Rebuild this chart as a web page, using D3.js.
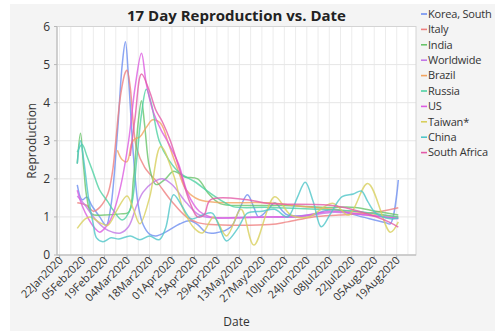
<!DOCTYPE html>
<html>
<head>
<meta charset="utf-8">
<script src="https://cdn.jsdelivr.net/npm/d3@7/dist/d3.min.js"></script>
<style>
  body { margin: 0; background: #ffffff; }
  svg { display: block; font-family: "Open Sans", "Noto Sans", sans-serif; }
</style>
</head>
<body>
<svg id="chart" width="495" height="331"></svg>
<script>
// 17-day reproduction estimates by country, one [date, value] list per series
const countries = ["Korea, South", "Italy", "India", "Worldwide", "Brazil", "Russia", "US", "Taiwan*", "China", "South Africa"];
const colors = ["#6e8ff0", "#ef7f7f", "#69c46a", "#c277e6", "#f2a45f", "#4fd1a3", "#dc5ce0", "#d8cf5c", "#4fc6c8", "#e35ba8"];

const korea = [["2020-02-02",1.84],["2020-02-05",1.45],["2020-02-08",1.52],["2020-02-11",1.3],["2020-02-16",1.0],["2020-02-20",0.78],["2020-02-23",1.3],["2020-02-27",3.2],["2020-03-01",5.0],["2020-03-03",5.6],["2020-03-05",4.6],["2020-03-08",2.6],["2020-03-11",1.3],["2020-03-14",0.8],["2020-03-18",0.55],["2020-03-22",0.5],["2020-03-28",0.6],["2020-04-06",0.82],["2020-04-12",0.9],["2020-04-17",0.8],["2020-04-22",0.6],["2020-04-28",0.58],["2020-05-08",0.75],["2020-05-13",1.2],["2020-05-18",1.58],["2020-05-22",1.25],["2020-05-25",1.0],["2020-05-31",1.2],["2020-06-04",1.37],["2020-06-09",1.15],["2020-06-12",1.05],["2020-06-25",1.05],["2020-07-11",1.2],["2020-07-20",1.1],["2020-08-02",0.95],["2020-08-12",0.85],["2020-08-15",0.82],["2020-08-20",1.97]];
const italy = [["2020-02-02",1.37],["2020-02-08",1.3],["2020-02-12",1.15],["2020-02-16",1.25],["2020-02-21",1.6],["2020-02-24",2.2],["2020-02-26",3.0],["2020-02-29",4.2],["2020-03-03",4.8],["2020-03-04",4.85],["2020-03-06",4.4],["2020-03-08",3.4],["2020-03-10",2.8],["2020-03-15",2.3],["2020-03-23",1.9],["2020-04-01",1.4],["2020-04-10",1.0],["2020-04-17",0.85],["2020-04-25",0.8],["2020-06-01",0.8],["2020-06-12",0.87],["2020-06-28",1.0],["2020-07-14",1.05],["2020-08-02",1.1],["2020-08-20",1.24]];
const india = [["2020-02-02",2.4],["2020-02-04",3.2],["2020-02-06",2.3],["2020-02-08",1.5],["2020-02-11",1.08],["2020-02-19",1.05],["2020-02-29",1.08],["2020-03-05",1.12],["2020-03-08",2.0],["2020-03-11",3.5],["2020-03-13",4.05],["2020-03-15",3.4],["2020-03-18",2.3],["2020-03-22",1.85],["2020-03-28",2.0],["2020-04-02",2.2],["2020-04-09",2.05],["2020-04-17",2.0],["2020-04-24",1.6],["2020-05-01",1.35],["2020-05-16",1.3],["2020-06-09",1.3],["2020-07-05",1.25],["2020-07-24",1.25],["2020-08-06",1.15],["2020-08-20",1.05]];
const worldwide = [["2020-02-02",1.55],["2020-02-07",1.3],["2020-02-13",0.95],["2020-02-19",0.7],["2020-02-24",0.6],["2020-02-29",0.58],["2020-03-05",0.75],["2020-03-10",1.3],["2020-03-14",1.65],["2020-03-20",1.9],["2020-03-26",2.0],["2020-04-01",1.85],["2020-04-10",1.37],["2020-04-18",1.05],["2020-04-26",0.98],["2020-05-21",1.0],["2020-06-20",1.0],["2020-07-11",1.12],["2020-07-31",1.05],["2020-08-20",0.97]];
const brazil = [["2020-02-27",2.75],["2020-03-01",2.5],["2020-03-04",2.45],["2020-03-07",2.95],["2020-03-09",3.05],["2020-03-12",3.1],["2020-03-16",3.35],["2020-03-20",3.55],["2020-03-25",3.45],["2020-03-30",2.9],["2020-04-05",2.2],["2020-04-10",1.7],["2020-04-18",1.45],["2020-05-01",1.38],["2020-05-31",1.37],["2020-06-20",1.28],["2020-07-10",1.2],["2020-07-31",1.1],["2020-08-20",1.0]];
const russia = [["2020-02-02",2.7],["2020-02-05",2.9],["2020-02-08",2.6],["2020-02-12",2.15],["2020-02-16",1.7],["2020-02-21",1.4],["2020-02-24",1.2],["2020-03-01",0.92],["2020-03-06",1.2],["2020-03-10",2.5],["2020-03-13",3.7],["2020-03-16",4.35],["2020-03-19",4.0],["2020-03-24",3.0],["2020-03-30",2.5],["2020-04-06",2.15],["2020-04-15",1.93],["2020-04-24",1.65],["2020-05-01",1.45],["2020-05-09",1.27],["2020-05-31",1.25],["2020-06-30",1.2],["2020-07-24",1.15],["2020-08-20",1.0]];
const us = [["2020-02-02",1.7],["2020-02-05",1.3],["2020-02-09",0.95],["2020-02-13",0.7],["2020-02-16",0.6],["2020-02-21",0.8],["2020-02-24",1.05],["2020-02-29",1.8],["2020-03-05",3.0],["2020-03-09",4.4],["2020-03-13",5.3],["2020-03-16",4.5],["2020-03-20",3.8],["2020-03-25",3.3],["2020-03-29",3.0],["2020-04-05",2.4],["2020-04-11",1.6],["2020-04-18",1.15],["2020-04-25",1.0],["2020-05-31",1.0],["2020-06-20",1.02],["2020-07-10",1.15],["2020-07-31",1.05],["2020-08-20",0.95]];
const taiwan = [["2020-02-02",0.7],["2020-02-07",0.95],["2020-02-10",1.0],["2020-02-16",0.85],["2020-02-21",0.78],["2020-02-27",1.2],["2020-03-04",1.55],["2020-03-08",1.2],["2020-03-12",0.82],["2020-03-18",1.5],["2020-03-25",2.85],["2020-04-02",2.1],["2020-04-08",1.2],["2020-04-15",0.7],["2020-04-20",0.58],["2020-04-27",1.0],["2020-05-05",0.5],["2020-05-14",1.2],["2020-05-22",0.26],["2020-06-04",1.53],["2020-06-14",1.05],["2020-06-25",1.0],["2020-07-10",1.36],["2020-07-20",1.05],["2020-08-01",1.88],["2020-08-15",0.6],["2020-08-20",0.87]];
const china = [["2020-02-02",2.4],["2020-02-04",3.0],["2020-02-06",2.5],["2020-02-09",1.5],["2020-02-12",0.8],["2020-02-14",0.45],["2020-02-18",0.35],["2020-02-23",0.45],["2020-02-28",0.42],["2020-03-06",0.5],["2020-03-12",0.4],["2020-03-18",0.5],["2020-03-24",0.4],["2020-03-28",0.7],["2020-04-02",1.58],["2020-04-07",1.3],["2020-04-13",0.95],["2020-04-20",1.05],["2020-04-26",1.1],["2020-04-30",0.8],["2020-05-05",0.37],["2020-05-12",0.7],["2020-05-18",1.1],["2020-05-27",1.15],["2020-06-04",1.2],["2020-06-12",1.0],["2020-06-18",1.5],["2020-06-23",1.91],["2020-06-28",1.4],["2020-07-03",0.74],["2020-07-09",1.1],["2020-07-16",1.53],["2020-07-23",1.6],["2020-07-28",1.68],["2020-08-01",1.4],["2020-08-06",1.1],["2020-08-15",0.95],["2020-08-20",0.97]];
const southAfrica = [["2020-03-06",2.6],["2020-03-09",3.6],["2020-03-13",4.75],["2020-03-18",4.3],["2020-03-22",3.8],["2020-03-26",3.5],["2020-03-31",3.0],["2020-04-06",2.2],["2020-04-12",1.4],["2020-04-17",1.0],["2020-04-21",1.05],["2020-04-25",1.45],["2020-05-18",1.45],["2020-05-31",1.35],["2020-07-10",1.3],["2020-07-28",1.13],["2020-08-14",0.87],["2020-08-20",0.73]];

const seriesPoints = [korea, italy, india, worldwide, brazil, russia, us, taiwan, china, southAfrica];

const xTickLabels = ["22Jan2020","05Feb2020","19Feb2020","04Mar2020","18Mar2020","01Apr2020","15Apr2020","29Apr2020","13May2020","27May2020","10Jun2020","24Jun2020","08Jul2020","22Jul2020","05Aug2020","19Aug2020"];
const yTicks = [0, 1, 2, 3, 4, 5, 6];

const parseDay = d3.utcParse("%Y-%m-%d");
const parseTick = d3.utcParse("%d%b%Y");

const svg = d3.select("#chart");
const W = 495, H = 331;
const plot = { left: 57, right: 416, top: 26.5, bottom: 255 };

// panel background
svg.append("rect").attr("width", W).attr("height", H).attr("fill", "#ffffff");
svg.append("rect").attr("x", 10).attr("y", 4).attr("width", W - 10).attr("height", H - 4).attr("fill", "#f4f4f4");

const x = d3.scaleUtc()
  .domain([new Date(Date.UTC(2020, 0, 20, 9)), new Date(Date.UTC(2020, 7, 31, 0, 30))])
  .range([plot.left, plot.right]);
const y = d3.scaleLinear().domain([0, 6]).range([plot.bottom, plot.top]);

svg.append("rect")
  .attr("x", plot.left).attr("y", plot.top)
  .attr("width", plot.right - plot.left).attr("height", plot.bottom - plot.top)
  .attr("fill", "#ffffff");

// weekly vertical grid, aligned with the date ticks
const tickDates = xTickLabels.map(parseTick);
const firstWeek = tickDates[0];
const weeks = d3.range(0, 32).map(i => d3.utcDay.offset(firstWeek, 7 * i)).filter(d => d < x.domain()[1]);
svg.append("g").selectAll("line").data(weeks).join("line")
  .attr("x1", d => x(d)).attr("x2", d => x(d))
  .attr("y1", plot.top).attr("y2", plot.bottom)
  .attr("stroke", "#ececec").attr("stroke-width", 1);

// horizontal grid
svg.append("g").selectAll("line").data(yTicks).join("line")
  .attr("x1", plot.left).attr("x2", plot.right)
  .attr("y1", d => y(d)).attr("y2", d => y(d))
  .attr("stroke", "#e6e6e6").attr("stroke-width", 1);

// frame
svg.append("rect")
  .attr("x", plot.left).attr("y", plot.top)
  .attr("width", plot.right - plot.left).attr("height", plot.bottom - plot.top)
  .attr("fill", "none").attr("stroke", "#d4d4d4");
svg.append("line").attr("x1", plot.left).attr("x2", plot.left).attr("y1", plot.top).attr("y2", plot.bottom).attr("stroke", "#b8b8b8");
svg.append("line").attr("x1", plot.left).attr("x2", plot.right).attr("y1", plot.bottom).attr("y2", plot.bottom).attr("stroke", "#b8b8b8");

// series
const line = d3.line()
  .x(d => x(parseDay(d[0])))
  .y(d => y(d[1]))
  .curve(d3.curveCatmullRom.alpha(0.5));

svg.append("g").selectAll("path").data(seriesPoints).join("path")
  .attr("d", d => line(d))
  .attr("fill", "none")
  .attr("stroke", (d, i) => colors[i])
  .attr("stroke-width", 1.5)
  .attr("stroke-opacity", 0.8)
  .attr("stroke-linejoin", "round");

// y axis
const yAxis = svg.append("g");
yAxis.selectAll("line").data(yTicks).join("line")
  .attr("x1", plot.left - 3).attr("x2", plot.left)
  .attr("y1", d => y(d)).attr("y2", d => y(d)).attr("stroke", "#b8b8b8");
yAxis.selectAll("text").data(yTicks).join("text")
  .attr("x", plot.left - 7).attr("y", d => y(d))
  .attr("dy", "0.35em").attr("text-anchor", "end")
  .attr("font-size", 12).attr("fill", "#333")
  .text(d => d);

// x axis
const xAxis = svg.append("g");
xAxis.selectAll("line").data(tickDates).join("line")
  .attr("x1", d => x(d)).attr("x2", d => x(d))
  .attr("y1", plot.bottom).attr("y2", plot.bottom + 3).attr("stroke", "#b8b8b8");
xAxis.selectAll("text").data(xTickLabels).join("text")
  .attr("transform", d => `translate(${x(parseTick(d)) + 4},${plot.bottom + 6}) rotate(-45)`)
  .attr("text-anchor", "end")
  .attr("font-size", 11).attr("fill", "#333")
  .text(d => d);

// titles
svg.append("text").attr("x", (plot.left + plot.right) / 2).attr("y", 21)
  .attr("text-anchor", "middle").attr("font-size", 15).attr("font-weight", "bold").attr("fill", "#222")
  .text("17 Day Reproduction vs. Date");
svg.append("text").attr("x", (plot.left + plot.right) / 2).attr("y", 326)
  .attr("text-anchor", "middle").attr("font-size", 12).attr("fill", "#333")
  .text("Date");
svg.append("text")
  .attr("transform", `translate(36,${(plot.top + plot.bottom) / 2}) rotate(-90)`)
  .attr("text-anchor", "middle").attr("font-size", 12).attr("fill", "#333")
  .text("Reproduction");

// legend
const legend = svg.append("g").selectAll("g").data(countries).join("g")
  .attr("transform", (d, i) => `translate(421,${14 + i * 15.4})`);
legend.append("line").attr("x1", 0).attr("x2", 6).attr("y1", 0).attr("y2", 0)
  .attr("stroke", (d, i) => colors[i]).attr("stroke-width", 1.6);
legend.append("text").attr("x", 7).attr("dy", "0.35em")
  .attr("font-size", 11).attr("letter-spacing", -0.2).attr("fill", "#333")
  .text(d => d);
</script>
</body>
</html>
